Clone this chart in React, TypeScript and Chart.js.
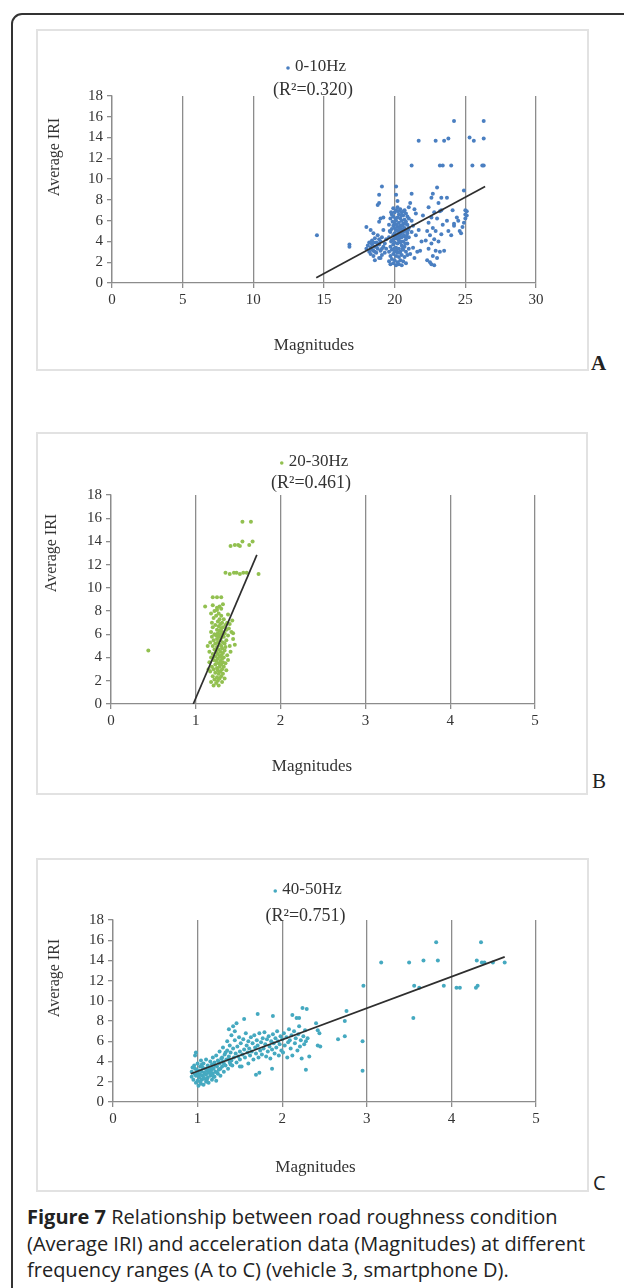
import React, { useEffect, useRef } from "react";
import { Chart, registerables } from "chart.js";

Chart.register(...registerables);

// ---------- shared axes ----------
const iriTicks = [0, 2, 4, 6, 8, 10, 12, 14, 16, 18];
const magTicksA = [0, 5, 10, 15, 20, 25, 30];
const magTicksBC = [0, 1, 2, 3, 4, 5];

// ---------- Panel A : 0-10Hz ----------
const seriesA = "0-10Hz";
const r2A = "(R\u00B2=0.320)";
const magA = [
  14.5, 16.8, 16.8, 21.7, 21.2, 24.2, 26.3, 22.9, 23.5, 23.8, 25.3, 25.6, 26.3, 23.2, 23.4, 24.0, 25.5, 26.2, 26.3,
  19.1, 20.1, 23.0, 24.9, 18.9, 18.9, 18.8, 22.7, 22.6, 23.3, 23.7, 20.1, 20.2, 21.2,
  18.0, 18.1, 18.2, 18.2, 18.3, 18.3, 18.4, 18.4, 18.5, 18.5, 18.6, 18.6, 18.7, 18.7, 18.8, 18.8, 18.9, 18.9, 19.0, 19.0,
  19.1, 19.1, 19.2, 19.2, 19.3, 19.3, 19.4, 19.4, 18.5, 18.3, 18.0, 18.6, 19.0, 18.9, 19.2, 19.0,
  19.6, 19.6, 19.6, 19.6, 19.7, 19.7, 19.7, 19.7, 19.7, 19.8, 19.8, 19.8, 19.8, 19.8, 19.9, 19.9, 19.9, 19.9, 19.9, 19.9, 19.9,
  20.0, 20.0, 20.0, 20.0, 20.0, 20.0, 20.1, 20.1, 20.1, 20.1, 20.1, 20.1, 20.1, 20.2, 20.2, 20.2, 20.2, 20.2, 20.2, 20.2,
  20.3, 20.3, 20.3, 20.3, 20.3, 20.3, 20.3, 20.4, 20.4, 20.4, 20.4, 20.4, 20.4, 20.4, 20.5, 20.5, 20.5, 20.5, 20.5, 20.5, 20.5,
  20.6, 20.6, 20.6, 20.6, 20.6, 20.6, 20.7, 20.7, 20.7, 20.7, 20.7, 20.7, 20.8, 20.8, 20.8, 20.8, 20.8, 20.8,
  20.9, 20.9, 20.9, 20.9, 20.9, 21.0, 21.0, 21.0, 21.0, 21.0,
  21.1, 21.2, 21.2, 21.3, 21.3, 21.4, 21.5, 21.5, 21.6, 21.7, 21.8, 21.9, 22.0, 21.4, 21.1,
  22.2, 22.3, 22.3, 22.4, 22.4, 22.5, 22.5, 22.6, 22.6, 22.6, 22.7, 22.7, 22.8, 22.8, 22.8, 22.9, 22.9, 23.0, 23.0, 23.1,
  23.2, 23.2, 23.3, 23.3, 23.4, 23.5, 22.4, 23.1, 23.7, 23.8,
  24.0, 24.2, 24.2, 24.1, 24.4, 24.6, 24.8, 24.9, 25.0, 25.0, 25.1, 25.0, 24.7, 24.5, 25.1,
  19.75, 19.85, 19.95, 20.05, 20.05, 20.15, 20.15, 20.25, 20.25, 20.35, 20.35, 20.45, 20.45, 20.55, 20.55, 20.65, 20.65,
  20.75, 20.75, 19.65, 19.75, 20.85, 20.95, 19.9, 20.3, 20.5, 20.2, 20.0, 20.6, 20.4,
  18.4, 18.6, 18.8, 18.5, 18.7, 18.9, 19.1, 18.3,
];
const iriA = [
  4.6, 3.7, 3.5, 13.7, 11.3, 15.6, 15.6, 13.7, 13.7, 13.9, 14.0, 13.7, 13.9, 11.3, 11.3, 11.3, 11.3, 11.3, 11.3,
  9.3, 9.3, 9.2, 8.9, 8.5, 7.7, 7.5, 8.6, 8.2, 8.2, 8.2, 8.5, 7.9, 8.6,
  3.3, 3.6, 3.0, 3.9, 2.8, 3.4, 3.7, 4.1, 3.1, 2.6, 3.5, 4.3, 3.9, 2.9, 3.3, 4.6, 2.4, 3.7, 4.0, 3.1,
  2.7, 4.4, 3.5, 5.1, 3.8, 2.9, 4.2, 3.3, 4.8, 5.1, 5.4, 2.2, 2.4, 5.9, 6.3, 6.2,
  2.1, 3.0, 4.4, 5.6, 1.8, 2.6, 3.5, 4.9, 6.2, 2.3, 3.2, 4.1, 5.2, 6.6, 1.9, 2.8, 3.7, 4.6, 5.5, 6.4, 7.2,
  2.2, 3.0, 3.9, 4.8, 5.7, 6.8, 1.7, 2.6, 3.4, 4.3, 5.1, 6.0, 7.0, 2.0, 2.9, 3.8, 4.6, 5.4, 6.3, 7.3,
  1.8, 2.5, 3.3, 4.1, 5.0, 5.8, 6.6, 2.2, 3.0, 3.9, 4.7, 5.5, 6.2, 7.1, 1.7, 2.7, 3.6, 4.4, 5.2, 6.0, 6.8,
  2.1, 3.2, 4.0, 4.9, 5.7, 6.5, 2.5, 3.5, 4.5, 5.3, 6.1, 7.0, 1.9, 3.0, 4.2, 5.0, 5.9, 6.7,
  2.7, 3.8, 4.8, 5.6, 6.4, 3.3, 4.4, 5.3, 6.2, 7.3,
  2.8, 4.9, 6.0, 3.4, 5.5, 2.4, 4.6, 6.7, 3.0, 5.1, 3.1, 4.0, 6.5, 7.1, 7.7,
  4.1, 5.0, 2.2, 5.8, 3.3, 4.6, 2.0, 6.3, 3.8, 1.8, 5.3, 2.6, 4.2, 6.8, 1.7, 3.1, 5.0, 2.4, 6.2, 4.0,
  3.0, 6.9, 4.7, 7.0, 5.6, 3.1, 7.3, 7.7, 6.0, 5.0,
  4.6, 5.7, 5.5, 7.0, 6.3, 5.0, 5.4, 5.8, 6.2, 6.6, 6.9, 7.0, 4.8, 6.0, 6.5,
  4.0, 5.9, 3.3, 4.4, 6.2, 3.1, 5.6, 4.2, 6.9, 2.9, 5.3, 4.0, 6.5, 3.3, 5.5, 4.6, 6.9,
  3.8, 5.7, 5.0, 6.8, 4.5, 5.1, 4.2, 4.5, 4.9, 5.0, 5.3, 5.1, 4.4,
  3.2, 3.0, 3.8, 3.9, 3.5, 4.2, 3.3, 3.9,
];
const trendMagA = [14.45, 26.4];
const trendIriA = [0.5, 9.3];

// ---------- Panel B : 20-30Hz ----------
const seriesB = "20-30Hz";
const r2B = "(R\u00B2=0.461)";
const magB = [
  0.44, 1.55, 1.65, 1.41, 1.46, 1.5, 1.55, 1.63, 1.67, 1.52, 1.35, 1.4, 1.45, 1.48, 1.52, 1.56, 1.6, 1.74,
  1.2, 1.25, 1.3, 1.11, 1.32, 1.28, 1.25, 1.38,
  1.16, 1.16, 1.17, 1.17, 1.18, 1.18, 1.18, 1.19, 1.19, 1.19, 1.2, 1.2, 1.2, 1.2, 1.21, 1.21, 1.21, 1.21, 1.21,
  1.22, 1.22, 1.22, 1.22, 1.23, 1.23, 1.23, 1.23, 1.23, 1.24, 1.24, 1.24, 1.24, 1.24, 1.25, 1.25, 1.25, 1.25, 1.25, 1.25,
  1.26, 1.26, 1.26, 1.26, 1.26, 1.26, 1.26, 1.27, 1.27, 1.27, 1.27, 1.27, 1.27, 1.27, 1.28, 1.28, 1.28, 1.28, 1.28, 1.28,
  1.29, 1.29, 1.29, 1.29, 1.29, 1.29, 1.3, 1.3, 1.3, 1.3, 1.3, 1.3, 1.3, 1.31, 1.31, 1.31, 1.31, 1.31, 1.31,
  1.32, 1.32, 1.32, 1.32, 1.32, 1.33, 1.33, 1.33, 1.33, 1.34, 1.34, 1.34, 1.34, 1.35, 1.35, 1.35, 1.36, 1.36, 1.36,
  1.37, 1.37, 1.38, 1.38, 1.39, 1.4, 1.4, 1.41, 1.42, 1.44, 1.46, 1.44, 1.43, 1.18, 1.15, 1.14, 1.2, 1.3,
];
const iriB = [
  4.6, 15.7, 15.7, 13.6, 13.7, 13.7, 14.0, 13.7, 14.0, 13.6, 11.3, 11.2, 11.3, 11.3, 11.2, 11.3, 11.3, 11.2,
  9.2, 9.2, 9.2, 8.4, 8.6, 8.4, 8.1, 7.7,
  4.5, 3.6, 5.3, 2.8, 6.2, 4.0, 1.9, 3.2, 5.8, 7.0, 2.4, 4.3, 5.0, 6.6, 1.6, 3.0, 3.8, 5.5, 7.4,
  2.1, 4.7, 6.0, 8.0, 2.7, 3.4, 4.1, 5.2, 6.8, 1.8, 3.7, 4.5, 5.9, 7.6, 2.3, 3.1, 4.9, 5.6, 6.4, 8.3,
  2.0, 2.9, 3.9, 4.3, 5.3, 6.1, 7.1, 1.6, 2.6, 3.5, 4.7, 5.8, 6.7, 7.8, 2.2, 3.2, 4.1, 5.1, 6.3, 7.3,
  2.8, 3.7, 4.5, 5.5, 6.0, 6.9, 2.4, 3.4, 4.2, 5.0, 5.7, 6.5, 7.6, 1.9, 3.0, 3.9, 4.8, 6.2, 7.0,
  2.6, 3.6, 4.4, 5.3, 6.6, 3.2, 4.0, 5.8, 7.3, 2.2, 4.6, 5.2, 6.1, 3.5, 4.9, 6.8, 2.9, 5.5, 6.4,
  4.2, 7.0, 5.9, 3.8, 6.5, 5.0, 6.9, 4.5, 6.2, 6.1, 5.1, 5.6, 7.2, 7.8, 3.0, 5.0, 8.5, 8.2,
];
const trendMagB = [0.97, 1.72];
const trendIriB = [0.0, 12.85];

// ---------- Panel C : 40-50Hz ----------
const seriesC = "40-50Hz";
const r2C = "(R\u00B2=0.751)";
const magC = [
  3.82, 4.35, 3.17, 3.5, 3.67, 3.84, 4.3, 4.36, 4.39, 4.49, 4.63, 2.96, 3.56, 3.62, 3.91, 4.06, 4.1, 4.29, 4.31, 3.55,
  0.93, 0.93, 0.94, 0.95, 0.96, 0.96, 0.97, 0.98, 0.98, 0.99, 1.0, 1.0, 1.0, 1.01, 1.02, 1.02, 1.03, 1.03, 1.04, 1.04,
  1.05, 1.05, 1.06, 1.06, 1.07, 1.07, 1.08, 1.08, 1.09, 1.1, 1.1, 1.1, 1.11, 1.12, 1.12, 1.13, 1.13, 1.14, 1.15, 1.15,
  1.16, 1.17, 1.17, 1.18, 1.18, 1.19, 1.2, 1.2, 1.21, 1.22, 1.22, 1.23, 1.24, 1.24, 1.25, 1.26, 1.26, 1.27, 1.28, 1.29,
  1.3, 1.3, 1.31, 1.32, 1.33, 1.34, 1.35, 1.35, 1.36, 1.37, 1.38, 1.38, 1.39, 1.4, 1.4, 1.41, 1.42, 1.43, 1.44, 1.44,
  1.45, 1.46, 1.47, 1.48, 1.49, 1.5, 1.5, 1.51, 1.52, 1.53, 1.54, 1.55, 1.56, 1.57, 1.58, 1.59, 1.6, 1.6, 1.61, 1.62,
  1.63, 1.64, 1.65, 1.66, 1.67, 1.68, 1.69, 1.7, 1.71, 1.72, 1.73, 1.74, 1.75, 1.76, 1.77, 1.78, 1.79, 1.8, 1.81, 1.82,
  1.83, 1.84, 1.85, 1.86, 1.87, 1.88, 1.89, 1.9, 1.91, 1.92, 1.93, 1.94, 1.95, 1.96, 1.97, 1.98, 1.99, 2.0, 2.01, 2.02,
  2.03, 2.05, 2.06, 2.07, 2.08, 2.09, 2.1, 2.11, 2.12, 2.14, 2.15, 2.16, 2.17, 2.18, 2.19, 2.2, 2.21, 2.22, 2.23, 2.24,
  2.25, 2.26, 2.27, 2.28, 2.29, 2.3, 2.32, 2.28, 2.4, 2.42, 2.44, 2.42, 2.45, 2.12, 1.71, 1.89, 1.55, 1.46, 1.42, 1.37,
  0.98, 1.69, 1.73, 1.88, 1.5, 2.2, 2.66, 2.74, 2.76, 2.74, 2.95, 2.95,
  0.97, 1.01, 1.03, 1.05, 1.07, 1.09, 1.11, 1.13, 1.15, 1.17, 1.19, 1.21, 1.23, 1.25, 1.27, 1.29, 1.31, 1.33, 1.36, 1.39,
];
const iriC = [
  15.8, 15.8, 13.8, 13.8, 14.0, 14.0, 14.0, 13.8, 13.8, 13.8, 13.8, 11.5, 11.5, 11.3, 11.5, 11.3, 11.3, 11.3, 11.5, 8.3,
  3.0, 2.5, 3.4, 2.2, 2.8, 3.6, 4.6, 1.9, 2.6, 3.2, 2.1, 2.9, 3.8, 1.6, 2.4, 3.1, 2.7, 3.5, 1.8, 4.1,
  2.2, 3.0, 2.6, 3.4, 1.7, 3.8, 2.3, 2.9, 3.3, 2.0, 2.7, 4.2, 3.1, 2.4, 3.6, 1.9, 2.9, 3.4, 2.6, 4.0,
  3.1, 2.2, 3.7, 2.8, 4.4, 3.3, 2.5, 3.9, 3.0, 4.6, 2.1, 3.5, 2.8, 4.1, 3.2, 3.8, 5.0, 2.6, 4.3, 3.5,
  4.0, 5.4, 3.0, 4.7, 3.6, 4.2, 5.1, 6.0, 3.3, 4.5, 3.9, 5.6, 4.9, 4.1, 6.6, 3.6, 5.3, 4.4, 6.1, 7.0,
  4.8, 3.9, 5.5, 4.5, 6.4, 5.0, 4.2, 5.8, 3.5, 4.7, 6.2, 5.2, 4.4, 6.8, 5.6, 4.9, 6.0, 3.8, 5.3, 4.6,
  6.4, 5.0, 5.8, 4.2, 6.6, 5.4, 4.8, 6.1, 5.6, 4.4, 6.8, 5.1, 5.9, 4.7, 6.3, 5.3, 6.9, 5.7, 4.5, 6.2,
  5.0, 6.5, 5.5, 4.3, 6.0, 5.2, 6.7, 5.8, 4.8, 6.3, 5.4, 7.0, 6.0, 4.6, 5.7, 6.5, 5.1, 6.2, 4.9, 6.8,
  5.6, 6.4, 4.4, 5.9, 7.2, 6.1, 5.3, 6.6, 4.6, 7.0, 5.8, 6.3, 8.3, 5.1, 6.7, 7.5, 5.5, 6.1, 4.3, 9.3,
  6.5, 5.7, 7.1, 6.0, 9.2, 6.3, 4.5, 3.2, 7.8, 7.1, 6.8, 5.6, 5.5, 8.6, 8.7, 8.5, 8.2, 7.8, 7.5, 7.2,
  4.9, 2.7, 2.9, 3.3, 3.5, 8.3, 6.2, 6.5, 9.0, 8.0, 6.0, 3.1,
  3.3, 2.7, 2.0, 3.7, 2.4, 2.8, 2.2, 3.2, 2.9, 3.4, 2.5, 3.6, 2.9, 4.0, 3.3, 4.4, 3.8, 4.9, 4.2, 3.7,
];
const trendMagC = [0.92, 4.63];
const trendIriC = [2.8, 14.35];

// ---------- styles ----------
const FONT_SERIF = "'Liberation Serif', 'DejaVu Serif', serif";
const AXIS_GRAY = "#8c8c8c";
const TEXT_GRAY = "#333333";

type PanelCfg = {
  name: string;
  r2: string;
  mags: number[];
  iris: number[];
  trendMag: number[];
  trendIri: number[];
  magTicks: number[];
  magMax: number;
  color: string;
  letter: string;
  letterFont: string;
  box: { left: number; top: number; width: number; height: number };
  pad: { top: number; right: number; bottom: number };
  yWidth: number;
  text: {
    legendDx: number; legendDy: number;
    r2Dx: number; r2Dy: number;
    xtDx: number; xtDy: number;
    ytDx: number; ytDy: number;
  };
  letterPos: { left: number; top: number };
};

const panels: PanelCfg[] = [
  {
    name: seriesA, r2: r2A, mags: magA, iris: iriA, trendMag: trendMagA, trendIri: trendIriA,
    magTicks: magTicksA, magMax: 30, color: "#4a7fc1", letter: "A",
    letterFont: `bold 21px ${FONT_SERIF}`,
    box: { left: 37, top: 30, width: 551, height: 340 },
    pad: { top: 66, right: 52, bottom: 57 },
    yWidth: 75,
    text: { legendDx: -7, legendDy: -29, r2Dx: -11, r2Dy: -6, xtDx: -10, xtDy: 63, ytDx: -57, ytDy: 61 },
    letterPos: { left: 591, top: 351 },
  },
  {
    name: seriesB, r2: r2B, mags: magB, iris: iriB, trendMag: trendMagB, trendIri: trendIriB,
    magTicks: magTicksBC, magMax: 5, color: "#92c050", letter: "B",
    letterFont: `21px ${FONT_SERIF}`,
    box: { left: 37, top: 433, width: 550, height: 361 },
    pad: { top: 62, right: 52, bottom: 60 },
    yWidth: 74,
    text: { legendDx: -8, legendDy: -33, r2Dx: -12, r2Dy: -12, xtDx: -11, xtDy: 63, ytDx: -59, ytDy: 58 },
    letterPos: { left: 592, top: 769 },
  },
  {
    name: seriesC, r2: r2C, mags: magC, iris: iriC, trendMag: trendMagC, trendIri: trendIriC,
    magTicks: magTicksBC, magMax: 5, color: "#45a9c0", letter: "C",
    letterFont: `20px 'Open Sans', 'Noto Sans', sans-serif`,
    box: { left: 37, top: 859, width: 551, height: 332 },
    pad: { top: 61, right: 52, bottom: 59 },
    yWidth: 76,
    text: { legendDx: -16, legendDy: -30, r2Dx: -19, r2Dy: -4, xtDx: -9, xtDy: 66, ytDx: -58, ytDy: 58 },
    letterPos: { left: 593, top: 1171 },
  },
];

const panelText = {
  id: "panelText",
  afterDraw(chart: any, _args: any, o: any) {
    const { ctx, chartArea: ca } = chart;
    const cx = (ca.left + ca.right) / 2;
    const ds = chart.data.datasets.find((d: any) => d.label === o.name);
    ctx.save();
    ctx.textBaseline = "middle";
    // series key
    ctx.font = `17px ${FONT_SERIF}`;
    const w = ctx.measureText(ds.label).width;
    const gap = 7;
    const lx = cx + o.legendDx - (gap + w) / 2;
    const ly = ca.top + o.legendDy;
    ctx.fillStyle = ds.backgroundColor;
    ctx.beginPath();
    ctx.arc(lx, ly + 1, 1.8, 0, Math.PI * 2);
    ctx.fill();
    ctx.fillStyle = TEXT_GRAY;
    ctx.textAlign = "left";
    ctx.fillText(ds.label, lx + gap, ly);
    // R squared
    ctx.textAlign = "center";
    ctx.font = `18px ${FONT_SERIF}`;
    ctx.fillText(o.r2, cx + o.r2Dx, ca.top + o.r2Dy);
    // axis titles
    ctx.font = `17px ${FONT_SERIF}`;
    ctx.fillText("Magnitudes", cx + o.xtDx, ca.bottom + o.xtDy);
    ctx.font = `16px ${FONT_SERIF}`;
    ctx.translate(ca.left + o.ytDx, ca.top + o.ytDy);
    ctx.rotate(-Math.PI / 2);
    ctx.fillText("Average IRI", 0, 0);
    ctx.restore();
  },
};

function Panel({ cfg }: { cfg: PanelCfg }) {
  const ref = useRef<HTMLCanvasElement | null>(null);
  useEffect(() => {
    if (!ref.current) return;
    const points = cfg.mags.map((m, i) => ({ x: m, y: cfg.iris[i] }));
    const trend = cfg.trendMag.map((m, i) => ({ x: m, y: cfg.trendIri[i] }));
    const tickFont = { family: FONT_SERIF, size: 15 };
    const chart = new Chart(ref.current, {
      type: "scatter",
      data: {
        datasets: [
          {
            label: "Linear trend",
            data: trend,
            showLine: true,
            borderColor: "#2e2e2e",
            borderWidth: 1.7,
            pointRadius: 0,
            backgroundColor: "#2e2e2e",
          },
          {
            label: cfg.name,
            data: points,
            pointRadius: 2,
            pointBorderWidth: 0,
            backgroundColor: cfg.color,
            borderColor: cfg.color,
          },
        ],
      },
      options: {
        animation: false,
        responsive: false,
        events: [],
        layout: { padding: { top: cfg.pad.top, right: cfg.pad.right, bottom: cfg.pad.bottom, left: 0 } },
        plugins: {
          legend: { display: false },
          tooltip: { enabled: false },
          title: { display: false },
          panelText: { name: cfg.name, r2: cfg.r2, ...cfg.text },
        } as any,
        scales: {
          x: {
            type: "linear",
            min: 0,
            max: cfg.magMax,
            afterBuildTicks: (s: any) => {
              s.ticks = cfg.magTicks.map((v) => ({ value: v }));
            },
            afterFit: (s: any) => {
              s.height = 30;
            },
            ticks: { font: tickFont, color: TEXT_GRAY, padding: 3, maxRotation: 0, autoSkip: false },
            grid: { display: true, drawOnChartArea: true, drawTicks: true, tickLength: 5, color: AXIS_GRAY, lineWidth: 1.3 },
            border: { display: true, color: AXIS_GRAY, width: 1.3 },
          },
          y: {
            type: "linear",
            min: 0,
            max: 18,
            afterBuildTicks: (s: any) => {
              s.ticks = iriTicks.map((v) => ({ value: v }));
            },
            afterFit: (s: any) => {
              s.width = cfg.yWidth;
            },
            ticks: { font: tickFont, color: TEXT_GRAY, padding: 4, autoSkip: false },
            grid: { display: true, drawOnChartArea: false, drawTicks: true, tickLength: 5, color: AXIS_GRAY, lineWidth: 1.3 },
            border: { display: true, color: AXIS_GRAY, width: 1.3 },
          },
        },
      },
      plugins: [panelText],
    } as any);
    return () => chart.destroy();
  }, [cfg]);

  const b = cfg.box;
  return (
    <>
      <div
        style={{
          position: "absolute",
          left: b.left - 1,
          top: b.top - 1,
          width: b.width + 2,
          height: b.height + 2,
          border: "2px solid #e2e2e2",
          boxSizing: "border-box",
        }}
      />
      <canvas
        ref={ref}
        width={b.width}
        height={b.height}
        style={{ position: "absolute", left: b.left, top: b.top, width: b.width, height: b.height }}
      />
      <div
        style={{
          position: "absolute",
          left: cfg.letterPos.left,
          top: cfg.letterPos.top,
          font: cfg.letterFont,
          color: "#222",
          lineHeight: "24px",
        }}
      >
        {cfg.letter}
      </div>
    </>
  );
}

export default function App() {
  return (
    <div
      style={{
        position: "absolute",
        left: 0,
        top: 0,
        width: 624,
        height: 1288,
        overflow: "hidden",
        background: "#ffffff",
      }}
    >
      <div
        style={{
          position: "absolute",
          left: 11,
          top: 13,
          width: 700,
          height: 1300,
          border: "2px solid #333",
          borderRadius: 11,
          boxSizing: "border-box",
        }}
      />
      {panels.map((p) => (
        <Panel key={p.letter} cfg={p} />
      ))}
      <div
        style={{
          position: "absolute",
          left: 27,
          top: 1204,
          width: 600,
          whiteSpace: "nowrap",
          font: "20px 'Open Sans', 'Noto Sans', sans-serif",
          lineHeight: "26.5px",
          color: "#222",
        }}
      >
        <b>Figure 7</b> Relationship between road roughness condition
        <br />
        (Average IRI) and acceleration data (Magnitudes) at different
        <br />
        frequency ranges (A to C) (vehicle 3, smartphone D).
      </div>
    </div>
  );
}
